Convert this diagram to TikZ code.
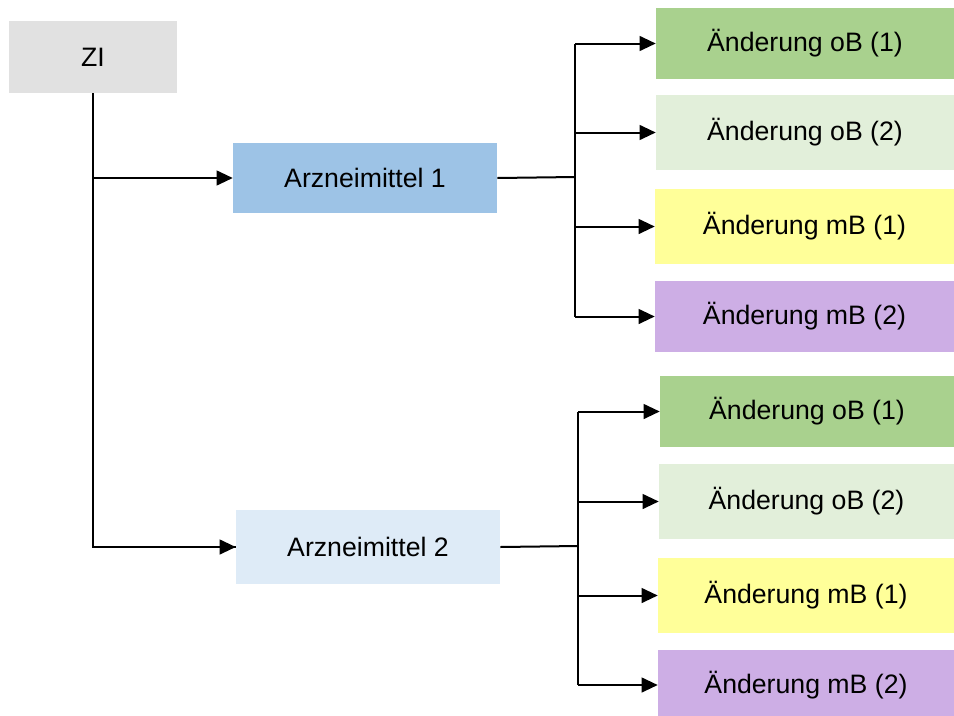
\documentclass[tikz,border=0pt]{standalone}
\usepackage{fontspec}
\setmainfont{Liberation Sans}
\usetikzlibrary{arrows.meta}

\definecolor{ziGray}{RGB}{225,225,225}
\definecolor{arzBlue}{RGB}{157,195,230}
\definecolor{arzLight}{RGB}{222,235,247}
\definecolor{obGreen}{RGB}{169,209,142}
\definecolor{obLight}{RGB}{226,239,218}
\definecolor{mbYellow}{RGB}{255,255,153}
\definecolor{mbLilac}{RGB}{205,174,229}

\tikzset{
  box/.style={rectangle, inner sep=0pt, font=\fontsize{20}{24}\selectfont},
  link/.style={line width=1.5pt},
  arr/.style={line width=1.5pt, -{Triangle[length=12pt,width=11pt]}}
}

\begin{document}
\begin{tikzpicture}[x=0.75pt,y=0.75pt,yscale=-1,xscale=1]
\useasboundingbox (0,0) rectangle (954,715);

% Root
\node [box, fill=ziGray, minimum width=126pt, minimum height=54pt] (zi) at (93,57) {ZI};

% Arzneimittel
\node [box, fill=arzBlue, minimum width=198pt, minimum height=52.5pt] (arz1) at (365,178) {Arzneimittel 1};
\node [box, fill=arzLight, minimum width=198pt, minimum height=55.5pt] (arz2) at (368,547) {Arzneimittel 2};

% Aenderungen 1
\node [box, fill=obGreen, minimum width=223.5pt, minimum height=53.25pt] (a1ob1) at (805,43.5) {Änderung oB (1)};
\node [box, fill=obLight, minimum width=223.5pt, minimum height=56.25pt] (a1ob2) at (805,132.5) {Änderung oB (2)};
\node [box, fill=mbYellow, minimum width=224.25pt, minimum height=56.25pt] (a1mb1) at (804.5,226.5) {Änderung mB (1)};
\node [box, fill=mbLilac, minimum width=224.25pt, minimum height=53.25pt] (a1mb2) at (804.5,316.5) {Änderung mB (2)};

% Aenderungen 2
\node [box, fill=obGreen, minimum width=220.5pt, minimum height=53.25pt] (a2ob1) at (807,411.5) {Änderung oB (1)};
\node [box, fill=obLight, minimum width=221.25pt, minimum height=56.25pt] (a2ob2) at (806.5,501.5) {Änderung oB (2)};
\node [box, fill=mbYellow, minimum width=222pt, minimum height=56.25pt] (a2mb1) at (806,595.5) {Änderung mB (1)};
\node [box, fill=mbLilac, minimum width=222pt, minimum height=52.5pt] (a2mb2) at (806,685) {Änderung mB (2)};

% Junctions
\coordinate (bus1) at (575,177);
\coordinate (bus2) at (578,546);

% ZI to Arzneimittel
\draw [link] (zi.south) |- (arz2.west);
\draw [arr] (zi.south |- arz1.west) -- (arz1.west);
\draw [arr] (zi.south |- arz2.west) -- (arz2.west);

% Arzneimittel 1 to Aenderungen
\draw [link] (arz1.east) -- (bus1);
\draw [link] (bus1 |- a1ob1.west) -- (bus1 |- a1mb2.west);
\draw [arr] (bus1 |- a1ob1.west) -- (a1ob1.west);
\draw [arr] (bus1 |- a1ob2.west) -- (a1ob2.west);
\draw [arr] (bus1 |- a1mb1.west) -- (a1mb1.west);
\draw [arr] (bus1 |- a1mb2.west) -- (a1mb2.west);

% Arzneimittel 2 to Aenderungen
\draw [link] (arz2.east) -- (bus2);
\draw [link] (bus2 |- a2ob1.west) -- (bus2 |- a2mb2.west);
\draw [arr] (bus2 |- a2ob1.west) -- (a2ob1.west);
\draw [arr] (bus2 |- a2ob2.west) -- (a2ob2.west);
\draw [arr] (bus2 |- a2mb1.west) -- (a2mb1.west);
\draw [arr] (bus2 |- a2mb2.west) -- (a2mb2.west);

\end{tikzpicture}
\end{document}
